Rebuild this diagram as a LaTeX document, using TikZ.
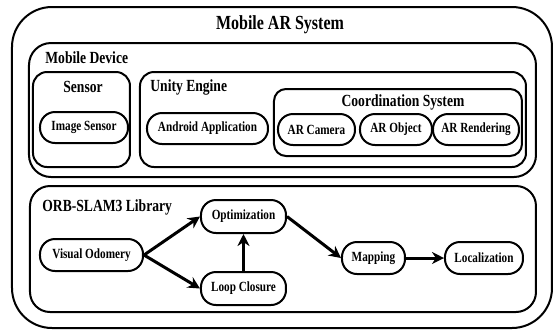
\documentclass[tikz,border=0pt]{standalone}
\usepackage{fontspec}
\setmainfont{Liberation Serif}[FakeStretch=0.8]
\usetikzlibrary{arrows.meta,positioning}
\tikzset{
	frame/.style={draw,line width=1pt,rounded corners=#1},
	pill/.style={draw,line width=1pt,rounded corners=7.5pt,minimum height=15.5pt,inner sep=1pt,font=\fontsize{7}{8}\selectfont\bfseries},
	boxlabel/.style={inner sep=0pt,font=\fontsize{8.5}{10}\selectfont\bfseries},
	flow/.style={-{Stealth[width=6pt,length=6pt]},line width=1.5pt}
}

\begin{document}
\begin{tikzpicture}[x=0.5pt,y=-0.5pt]
	\useasboundingbox (0,0) rectangle (554,329);
	%%% containers
	\draw[frame=20pt] (12,7) rectangle (552,328);
	\node[boxlabel,font=\fontsize{10}{12}\selectfont\bfseries] (sys) at (280,25) {Mobile AR System};
	
	\draw[frame=11pt] (29,43) rectangle (536,177);
	\node[boxlabel,anchor=west] (dev) at (45,58) {Mobile Device};
	
	\draw[frame=7pt] (33,72) rectangle (130,167);
	\node[boxlabel] (sens) at (83,87) {Sensor};
	
	\draw[frame=7pt] (140,72) rectangle (526,167);
	\node[boxlabel,anchor=west] (unity) at (150,87) {Unity Engine};
	
	\draw[frame=6pt] (274,89) rectangle (522,156);
	\node[boxlabel] (coord) at (403,102) {Coordination System};
	
	\draw[frame=10pt] (30,186) rectangle (536,312);
	\node[boxlabel,anchor=west] (orb) at (42,207) {ORB-SLAM3 Library};
	
	%%% mobile device parts
	\node[pill,minimum width=44pt] (imgsens) at (84,127.5) {Image Sensor};
	\node[pill,minimum width=60.5pt] (android) at (207.5,128.5) {Android Application};
	\node[pill,minimum width=38.5pt] (arcam) at (316.5,129.5) {AR Camera};
	\node[pill,minimum width=36pt] (arobj) at (396,129.5) {AR Object};
	\node[pill,minimum width=43pt] (arrend) at (476,129.5) {AR Rendering};
	
	%%% slam pipeline
	\node[pill,minimum width=51.5pt,minimum height=16pt] (vo) at (91.5,255) {Visual Odomery};
	\node[pill,minimum width=42.5pt,minimum height=16.5pt] (opt) at (243.5,216.5) {Optimization};
	\node[pill,minimum width=42.5pt,minimum height=16.5pt] (loop) at (243.5,288.5) {Loop Closure};
	\node[pill,minimum width=31.5pt,minimum height=16pt] (map) at (373.5,258) {Mapping};
	\node[pill,minimum width=39pt,minimum height=16pt] (loc) at (484,258) {Localization};
	
	\draw[flow] (vo.east) -- (opt.west);
	\draw[flow] (vo.east) -- (loop.west);
	\draw[flow] (loop.north) -- (opt.south);
	\draw[flow] (opt.east) -- (map.west);
	\draw[flow] (map) -- (loc);
\end{tikzpicture}
\end{document}
